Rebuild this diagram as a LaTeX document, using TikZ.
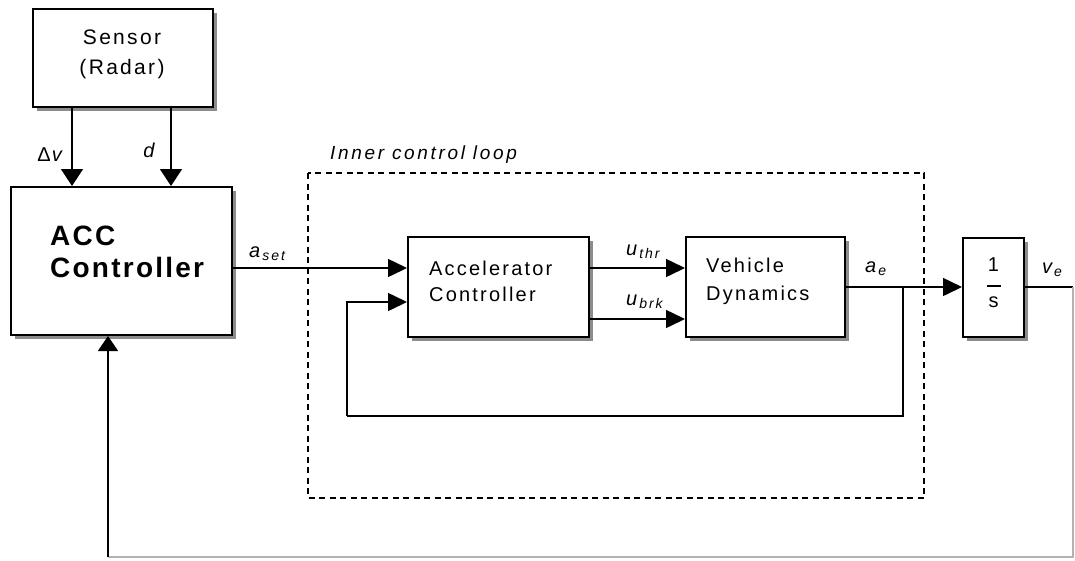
\documentclass[tikz,border=0pt]{standalone}
\usepackage{fontspec}
\setmainfont{Liberation Sans}[LetterSpace=11]
\newfontfamily\accfont{Liberation Sans}[LetterSpace=8]
\newfontfamily\lblfont{Liberation Sans}[LetterSpace=14]
\usetikzlibrary{arrows.meta,shadows}
% italic symbol with a lowered italic index
\newcommand{\lblsub}[2]{\textit{#1}\kern2pt\raisebox{-0.3ex}{\fontsize{14}{14}\selectfont\textit{#2}}}

\begin{document}
\begin{tikzpicture}[x=1pt,y=-1pt,
  box/.style={draw=black, line width=2pt, fill=white,
    drop shadow={shadow xshift=4pt, shadow yshift=-4pt, fill=black!45, opacity=1}},
  boxtext/.style={align=left, inner sep=0pt, font=\fontsize{20}{26}\selectfont},
  wire/.style={draw=black, line width=1.5pt},
  arr/.style={wire, -{Triangle[length=19pt,width=18pt]}},
  downarr/.style={wire, -{Triangle[length=17pt,width=22pt]}},
  lbl/.style={inner sep=0pt, font=\fontsize{20}{20}\selectfont\lblfont\itshape},
  loopframe/.style={draw=black, line width=2pt, dash pattern=on 6pt off 4.5pt},
  faint/.style={draw=black!30, line width=1.2pt}
]
\useasboundingbox (0,0) rectangle (1075,560);

% inner control loop frame
\draw[loopframe] (308,173) rectangle (924,498);
\node[lbl, anchor=west, font=\fontsize{19}{19}\selectfont\lblfont\itshape] (looplbl) at (330,155) {Inner control loop};

% blocks
\node[box, minimum width=180pt, minimum height=98pt] (sensor) at (123,58) {};
\node[boxtext, align=center, font=\fontsize{21}{30}\selectfont] (sensortxt) at (122,54) {Sensor\\(Radar)};

\node[box, minimum width=221pt, minimum height=148pt] (acc) at (121.5,261) {};
\node[boxtext, anchor=west, font=\fontsize{28}{32}\selectfont\accfont\bfseries] (acctxt) at (50,252) {ACC\\Controller};

\node[box, minimum width=181pt, minimum height=100pt] (accel) at (498.5,287) {};
\node[boxtext, anchor=west] (acceltxt) at (429,281) {Accelerator\\Controller};

\node[box, minimum width=159pt, minimum height=100pt] (veh) at (765.5,287) {};
\node[boxtext, anchor=west, font=\fontsize{20}{28}\selectfont] (vehtxt) at (706,281) {Vehicle\\Dynamics};

\node[box, minimum width=61pt, minimum height=99pt] (integ) at (993.5,287) {};
\node[boxtext, align=center, font=\fontsize{20}{18}\selectfont] (integtxt) at (993.5,283) {1\\\raisebox{3pt}{\rule{14pt}{1.8pt}}\\s};

% helper coordinates
\coordinate (dvx) at (72,0);
\coordinate (dx) at (171,0);
\coordinate (yset) at (0,268);
\coordinate (yfb) at (0,302);
\coordinate (ythr) at (0,268);
\coordinate (ybrk) at (0,319);
\coordinate (br) at (903,287);
\coordinate (fbl) at (347,416);
\coordinate (vend) at (1073,287);
\coordinate (vcorner) at (1073,557);
\coordinate (ucorner) at (108,557);

% sensor outputs
\draw[downarr] (dvx |- sensor.south) -- (dvx |- acc.north);
\draw[downarr] (dx |- sensor.south) -- (dx |- acc.north);
\node[lbl, anchor=east] (dvlbl) at (62,155) {\textup{Δ}\kern1pt v};
\node[lbl] (dlbl) at (149,150) {d};

% set-point acceleration
\draw[arr] (acc.east |- yset) -- (accel.west |- yset);
\node[lbl, anchor=west] (asetlbl) at (249,254) {\lblsub{a}{set}};

% throttle and brake commands
\draw[arr] (accel.east |- ythr) -- (veh.west |- ythr);
\draw[arr] (accel.east |- ybrk) -- (veh.west |- ybrk);
\node[lbl, anchor=west] (uthrlbl) at (626,252) {\lblsub{u}{thr}};
\node[lbl, anchor=west] (ubrklbl) at (626,302) {\lblsub{u}{brk}};

% vehicle acceleration and inner feedback
\draw[arr] (veh.east) -- (integ.west);
\node[lbl, anchor=west] (aelbl) at (865,269) {\lblsub{a}{e}};
\draw[wire] (br) |- (fbl);
\draw[arr] (fbl) |- (accel.west |- yfb);

% vehicle velocity and outer feedback
\draw[wire] (integ.east) -- (vend);
\node[lbl, anchor=west] (velbl) at (1042,270) {\lblsub{v}{e}};
\draw[faint] (vend) -- (vcorner) -- (ucorner);
\draw[wire, -{Triangle[length=15pt,width=20pt]}] (ucorner) -- (acc.south -| ucorner);
\end{tikzpicture}
\end{document}
